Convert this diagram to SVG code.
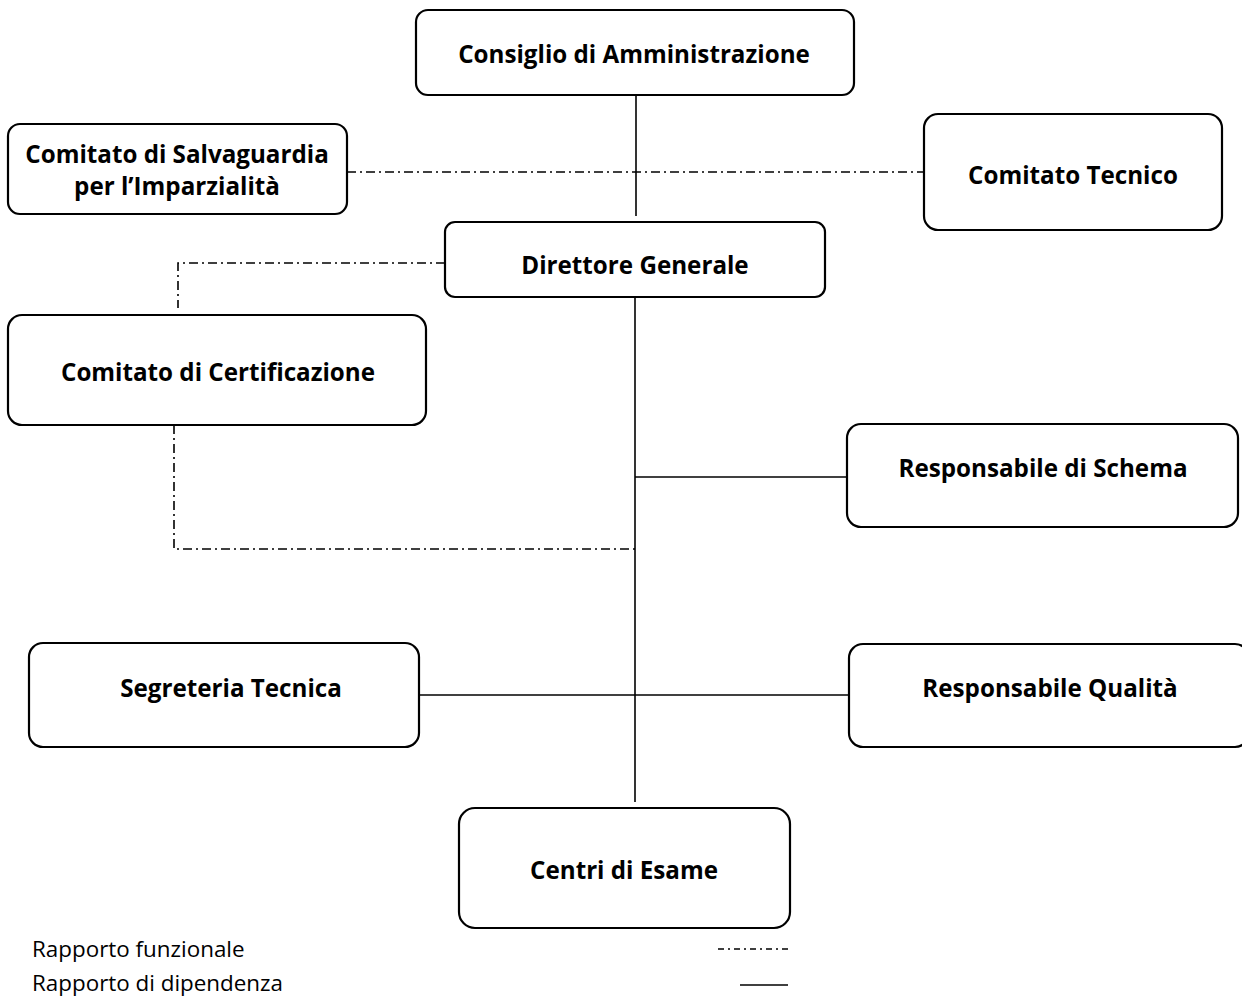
<svg xmlns="http://www.w3.org/2000/svg" width="1242" height="996" viewBox="0 0 1242 996">
<style>
.box{fill:#fff;stroke:#000;stroke-width:2.2}
.lbl{font-family:"Open Sans","Liberation Sans",sans-serif;font-weight:bold;font-size:24.2px;text-anchor:middle;fill:#000}
.leg{font-family:"Open Sans","Liberation Sans",sans-serif;font-size:22.4px;fill:#000}
.solid{stroke:#000;stroke-width:1.6;fill:none}
.dd{stroke:#000;stroke-width:1.6;fill:none;stroke-dasharray:9 4 2 4}
</style>
<rect width="1242" height="996" fill="#fff"/>
<g id="connectors">
<line class="solid" x1="636" y1="95" x2="636" y2="216"/>
<line class="dd" x1="347" y1="172" x2="924" y2="172"/>
<polyline class="dd" points="445,263 178,263 178,308"/>
<line class="solid" x1="635" y1="297" x2="635" y2="802"/>
<line class="solid" x1="635" y1="477" x2="847" y2="477"/>
<polyline class="dd" points="174,425 174,549 635,549"/>
<line class="solid" x1="419" y1="695" x2="849" y2="695"/>
</g>
<g id="n-cda"><rect class="box" x="416" y="10" width="438" height="85" rx="12"/><text class="lbl" x="634" y="63">Consiglio di Amministrazione</text></g>
<g id="n-csi"><rect class="box" x="8" y="124" width="339" height="90" rx="12"/><text class="lbl" x="177" y="163">Comitato di Salvaguardia</text><text class="lbl" x="177" y="195">per l’Imparzialità</text></g>
<g id="n-ct"><rect class="box" x="924" y="114" width="298" height="116" rx="14"/><text class="lbl" x="1073" y="184">Comitato Tecnico</text></g>
<g id="n-dg"><rect class="box" x="445" y="222" width="380" height="75" rx="10"/><text class="lbl" x="635" y="274">Direttore Generale</text></g>
<g id="n-cc"><rect class="box" x="8" y="315" width="418" height="110" rx="14"/><text class="lbl" x="218" y="381">Comitato di Certificazione</text></g>
<g id="n-rs"><rect class="box" x="847" y="424" width="391" height="103" rx="14"/><text class="lbl" x="1043" y="477">Responsabile di Schema</text></g>
<g id="n-st"><rect class="box" x="29" y="643" width="390" height="104" rx="14"/><text class="lbl" x="231" y="697">Segreteria Tecnica</text></g>
<g id="n-rq"><rect class="box" x="849" y="644" width="400" height="103" rx="14"/><text class="lbl" x="1050" y="697">Responsabile Qualità</text></g>
<g id="n-ce"><rect class="box" x="459" y="808" width="331" height="120" rx="16"/><text class="lbl" x="624" y="879">Centri di Esame</text></g>
<g id="legend">
<text class="leg" x="32" y="957">Rapporto funzionale</text>
<text class="leg" x="32" y="991">Rapporto di dipendenza</text>
<line class="dd" x1="718" y1="949" x2="788" y2="949" style="stroke-dasharray:6 4 2 4"/>
<line class="solid" x1="740" y1="985" x2="788" y2="985"/>
</g>
</svg>
